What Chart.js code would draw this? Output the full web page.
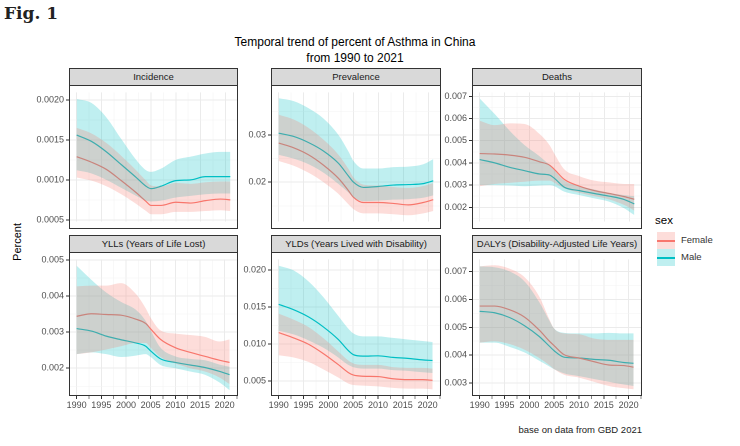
<!DOCTYPE html>
<html>
<head>
<meta charset="utf-8">
<script src="https://cdn.jsdelivr.net/npm/chart.js@4"></script>
<style>
  body { margin: 0; background: #fff; font-family: "Liberation Sans", Arial, sans-serif; }
  #wrap { position: relative; width: 740px; height: 446px; overflow: hidden; }
  canvas { position: absolute; }
  .strip { position: absolute; background: #d9d9d9; border: 1px solid #333; box-sizing: border-box;
           font-size: 9.5px; color: #1a1a1a; text-align: center; line-height: 16px; }
  .frame { position: absolute; border: 1px solid #333; box-sizing: border-box; pointer-events: none; }
  .txt { position: absolute; color: #000; }
</style>
</head>
<body>
<div id="wrap">
  <div class="txt" style="left:4px;top:3px;font-family:'DejaVu Serif',serif;font-weight:bold;font-size:17px;color:#222;">Fig. 1</div>
  <div class="txt" style="left:200px;width:310px;top:34px;text-align:center;font-size:12px;line-height:16px;">Temporal trend of percent of Asthma in China<br>from 1990 to 2021</div>
  <div class="txt" style="left:-2px;top:236px;font-size:11px;transform:rotate(-90deg);">Percent</div>
  <div class="txt" style="left:655px;top:214px;font-size:11.5px;">sex</div>
  <div style="position:absolute;left:657px;top:232px;width:18px;height:17px;background:rgba(248,118,109,0.25);"></div>
  <div style="position:absolute;left:657px;top:240px;width:18px;height:1.5px;background:#F8766D;"></div>
  <div class="txt" style="left:681px;top:234px;font-size:9.5px;color:#333;">Female</div>
  <div style="position:absolute;left:657px;top:249px;width:18px;height:17px;background:rgba(0,191,196,0.25);"></div>
  <div style="position:absolute;left:657px;top:257px;width:18px;height:1.5px;background:#00BFC4;"></div>
  <div class="txt" style="left:681px;top:251px;font-size:9.5px;color:#333;">Male</div>
  <div class="txt" style="left:442px;width:200px;top:424px;text-align:right;font-size:9.5px;color:#222;">base on data from GBD 2021</div>
</div>
<script>
const years = [1990, 1993, 1996, 1999, 2002, 2004, 2005, 2007, 2010, 2013, 2016, 2019, 2021];
const xTicks = [1990, 1995, 2000, 2005, 2010, 2015, 2020];

// Incidence
const incMale = [0.00156, 0.00148, 0.00135, 0.00119, 0.00103, 0.00092, 0.00089, 0.00092, 0.00099, 0.00100, 0.00104, 0.00104, 0.00104];
const incMaleUp = [0.00201, 0.00196, 0.00178, 0.00151, 0.00125, 0.00112, 0.00110, 0.00114, 0.00125, 0.00129, 0.00133, 0.00135, 0.00135];
const incMaleLo = [0.00112, 0.00108, 0.00100, 0.00090, 0.00080, 0.00074, 0.00073, 0.00074, 0.00078, 0.00080, 0.00082, 0.00083, 0.00083];
const incFemale = [0.00129, 0.00122, 0.00113, 0.00099, 0.00084, 0.00073, 0.00068, 0.00068, 0.00072, 0.00071, 0.00074, 0.00076, 0.00075];
const incFemaleUp = [0.00165, 0.00158, 0.00146, 0.00130, 0.00112, 0.00099, 0.00093, 0.00092, 0.00096, 0.00095, 0.00097, 0.00098, 0.00098];
const incFemaleLo = [0.00103, 0.00099, 0.00092, 0.00082, 0.00070, 0.00061, 0.00057, 0.00057, 0.00060, 0.00060, 0.00061, 0.00062, 0.00061];
const incTicks = [0.0005, 0.0010, 0.0015, 0.0020];

// Prevalence
const prevMale = [0.0304, 0.0297, 0.0284, 0.0266, 0.0240, 0.0213, 0.0200, 0.0189, 0.0191, 0.0194, 0.0195, 0.0197, 0.0203];
const prevMaleUp = [0.0378, 0.0372, 0.0357, 0.0335, 0.0300, 0.0265, 0.0245, 0.0229, 0.0229, 0.0232, 0.0233, 0.0238, 0.0249];
const prevMaleLo = [0.0258, 0.0250, 0.0238, 0.0220, 0.0196, 0.0178, 0.0168, 0.0160, 0.0161, 0.0163, 0.0164, 0.0167, 0.0172];
const prevFemale = [0.0283, 0.0273, 0.0258, 0.0236, 0.0208, 0.0182, 0.0168, 0.0157, 0.0157, 0.0155, 0.0152, 0.0157, 0.0163];
const prevFemaleUp = [0.0343, 0.0333, 0.0315, 0.0290, 0.0258, 0.0228, 0.0210, 0.0195, 0.0193, 0.0190, 0.0188, 0.0192, 0.0198];
const prevFemaleLo = [0.0245, 0.0235, 0.0220, 0.0200, 0.0175, 0.0153, 0.0143, 0.0134, 0.0134, 0.0132, 0.0130, 0.0134, 0.0139];
const prevTicks = [0.02, 0.03];

// Deaths
const dthMale = [0.00415, 0.00400, 0.00380, 0.00365, 0.00350, 0.00345, 0.00330, 0.00290, 0.00275, 0.00262, 0.00250, 0.00235, 0.00215];
const dthMaleUp = [0.00690, 0.00620, 0.00545, 0.00480, 0.00430, 0.00390, 0.00365, 0.00320, 0.00295, 0.00280, 0.00265, 0.00255, 0.00250];
const dthMaleLo = [0.00300, 0.00300, 0.00298, 0.00295, 0.00298, 0.00300, 0.00295, 0.00270, 0.00255, 0.00240, 0.00225, 0.00195, 0.00165];
const dthFemale = [0.00442, 0.00440, 0.00435, 0.00425, 0.00405, 0.00390, 0.00370, 0.00325, 0.00295, 0.00275, 0.00262, 0.00248, 0.00236];
const dthFemaleUp = [0.00590, 0.00570, 0.00578, 0.00575, 0.00530, 0.00480, 0.00440, 0.00370, 0.00340, 0.00320, 0.00312, 0.00305, 0.00305];
const dthFemaleLo = [0.00295, 0.00305, 0.00310, 0.00315, 0.00320, 0.00320, 0.00310, 0.00285, 0.00265, 0.00250, 0.00235, 0.00210, 0.00185];
const dthTicks = [0.002, 0.003, 0.004, 0.005, 0.006, 0.007];

// YLLs
const yllMale = [0.00310, 0.00303, 0.00289, 0.00279, 0.00270, 0.00261, 0.00248, 0.00226, 0.00216, 0.00209, 0.00202, 0.00191, 0.00182];
const yllMaleUp = [0.00484, 0.00445, 0.00410, 0.00384, 0.00362, 0.00331, 0.00305, 0.00257, 0.00233, 0.00226, 0.00222, 0.00210, 0.00204];
const yllMaleLo = [0.00239, 0.00244, 0.00239, 0.00231, 0.00235, 0.00239, 0.00231, 0.00209, 0.00200, 0.00191, 0.00182, 0.00160, 0.00139];
const yllFemale = [0.00344, 0.00351, 0.00349, 0.00347, 0.00336, 0.00324, 0.00309, 0.00280, 0.00257, 0.00244, 0.00233, 0.00222, 0.00216];
const yllFemaleUp = [0.00427, 0.00429, 0.00429, 0.00436, 0.00406, 0.00366, 0.00340, 0.00305, 0.00296, 0.00292, 0.00287, 0.00274, 0.00280];
const yllFemaleLo = [0.00239, 0.00244, 0.00252, 0.00261, 0.00270, 0.00270, 0.00257, 0.00231, 0.00213, 0.00200, 0.00191, 0.00174, 0.00156];
const yllTicks = [0.002, 0.003, 0.004, 0.005];

// YLDs
const yldMale = [0.01535, 0.01463, 0.01366, 0.01231, 0.01062, 0.00914, 0.00859, 0.00838, 0.00842, 0.00821, 0.00808, 0.00787, 0.00779];
const yldMaleUp = [0.02055, 0.01992, 0.01844, 0.01632, 0.01379, 0.01210, 0.01146, 0.01104, 0.01104, 0.01083, 0.01062, 0.01041, 0.01028];
const yldMaleLo = [0.0118, 0.0113, 0.0105, 0.0095, 0.0082, 0.0072, 0.0069, 0.0067, 0.0067, 0.0065, 0.0064, 0.0062, 0.0061];
const yldFemale = [0.01155, 0.01083, 0.00998, 0.00872, 0.00724, 0.00618, 0.00584, 0.00567, 0.00563, 0.00533, 0.00521, 0.00521, 0.00512];
const yldFemaleUp = [0.0141, 0.0133, 0.0123, 0.0108, 0.0090, 0.0078, 0.0074, 0.0072, 0.0072, 0.0069, 0.0068, 0.0068, 0.0067];
const yldFemaleLo = [0.0085, 0.0082, 0.0076, 0.0066, 0.0055, 0.0047, 0.0045, 0.0044, 0.0043, 0.0041, 0.0040, 0.0040, 0.0039];
const yldTicks = [0.005, 0.010, 0.015, 0.020];

// DALYs
const dalyMale = [0.00557, 0.00552, 0.00535, 0.00506, 0.00467, 0.00433, 0.00416, 0.00393, 0.00390, 0.00385, 0.00382, 0.00374, 0.00371];
const dalyMaleUp = [0.00718, 0.00715, 0.00700, 0.00665, 0.00590, 0.00525, 0.00495, 0.00480, 0.00478, 0.00478, 0.00480, 0.00478, 0.00478];
const dalyMaleLo = [0.00445, 0.00445, 0.00430, 0.00410, 0.00380, 0.00360, 0.00350, 0.00335, 0.00325, 0.00315, 0.00305, 0.00295, 0.00290];
const dalyFemale = [0.00576, 0.00576, 0.00563, 0.00537, 0.00490, 0.00451, 0.00434, 0.00402, 0.00390, 0.00377, 0.00365, 0.00363, 0.00357];
const dalyFemaleUp = [0.00718, 0.00722, 0.00710, 0.00680, 0.00610, 0.00530, 0.00495, 0.00478, 0.00475, 0.00460, 0.00455, 0.00455, 0.00455];
const dalyFemaleLo = [0.00445, 0.00450, 0.00440, 0.00420, 0.00390, 0.00365, 0.00350, 0.00330, 0.00320, 0.00305, 0.00290, 0.00282, 0.00278];
const dalyTicks = [0.003, 0.004, 0.005, 0.006, 0.007];

const FEMALE = "#F8766D", MALE = "#00BFC4";
const FEMALE_BAND = "rgba(248,118,109,0.25)", MALE_BAND = "rgba(0,191,196,0.25)";

const panels = [
  { title: "Incidence", col: 0, row: 0, min: 0.000478, max: 0.002093, ticks: incTicks, dec: 4,
    m: incMale, mu: incMaleUp, ml: incMaleLo, f: incFemale, fu: incFemaleUp, fl: incFemaleLo },
  { title: "Prevalence", col: 1, row: 0, min: 0.01165, max: 0.03905, ticks: prevTicks, dec: 2,
    m: prevMale, mu: prevMaleUp, ml: prevMaleLo, f: prevFemale, fu: prevFemaleUp, fl: prevFemaleLo },
  { title: "Deaths", col: 2, row: 0, min: 0.001355, max: 0.007175, ticks: dthTicks, dec: 3,
    m: dthMale, mu: dthMaleUp, ml: dthMaleLo, f: dthFemale, fu: dthFemaleUp, fl: dthFemaleLo },
  { title: "YLLs (Years of Life Lost)", col: 0, row: 1, min: 0.00123, max: 0.005017, ticks: yllTicks, dec: 3,
    m: yllMale, mu: yllMaleUp, ml: yllMaleLo, f: yllFemale, fu: yllFemaleUp, fl: yllFemaleLo },
  { title: "YLDs (Years Lived with Disability)", col: 1, row: 1, min: 0.00301, max: 0.0214, ticks: yldTicks, dec: 3,
    m: yldMale, mu: yldMaleUp, ml: yldMaleLo, f: yldFemale, fu: yldFemaleUp, fl: yldFemaleLo },
  { title: "DALYs (Disability-Adjusted Life Years)", col: 2, row: 1, min: 0.00254, max: 0.00743, ticks: dalyTicks, dec: 3,
    m: dalyMale, mu: dalyMaleUp, ml: dalyMaleLo, f: dalyFemale, fu: dalyFemaleUp, fl: dalyFemaleLo }
];

const colX = [[69, 238], [271, 441], [472, 642]];
const rowY = [[68, 85, 229], [235, 252, 396]];
const AXW = 45, XAXH = 16;
const wrap = document.getElementById("wrap");

function pts(vals) { return vals.map((v, i) => ({ x: years[i], y: v })); }

function withMinors(major) {
  const out = [];
  const step = major.length > 1 ? major[1] - major[0] : 0.01;
  for (let i = 0; i < major.length; i++) {
    out.push({ value: major[i], major: true });
    out.push({ value: major[i] + step / 2, major: false });
  }
  out.unshift({ value: major[0] - step / 2, major: false });
  return out;
}

panels.forEach(p => {
  const [x0, x1] = colX[p.col];
  const [sTop, pTop, pBot] = rowY[p.row];
  const bottom = p.row === 1;

  const strip = document.createElement("div");
  strip.className = "strip";
  Object.assign(strip.style, { left: x0 + "px", top: sTop + "px", width: (x1 - x0) + "px", height: (pTop - sTop + 1) + "px" });
  strip.textContent = p.title;
  wrap.appendChild(strip);

  const cv = document.createElement("canvas");
  const w = x1 - x0 + AXW, h = pBot - pTop + (bottom ? XAXH : 0);
  cv.width = w; cv.height = h;
  Object.assign(cv.style, { left: (x0 - AXW) + "px", top: pTop + "px", width: w + "px", height: h + "px" });
  wrap.appendChild(cv);

  const frame = document.createElement("div");
  frame.className = "frame";
  Object.assign(frame.style, { left: x0 + "px", top: pTop + "px", width: (x1 - x0) + "px", height: (pBot - pTop) + "px" });
  wrap.appendChild(frame);

  const band = (data, color, fill) => ({ data: pts(data), borderWidth: 0, pointRadius: 0, backgroundColor: color,
    fill: fill, cubicInterpolationMode: "monotone" });
  const line = (data, color) => ({ data: pts(data), borderColor: color, borderWidth: 1.2, pointRadius: 0,
    fill: false, cubicInterpolationMode: "monotone" });

  new Chart(cv, {
    type: "line",
    data: {
      datasets: [
        band(p.fu, FEMALE_BAND, "+1"), band(p.fl, FEMALE_BAND, false),
        band(p.mu, MALE_BAND, "+1"), band(p.ml, MALE_BAND, false),
        line(p.f, FEMALE), line(p.m, MALE)
      ]
    },
    options: {
      responsive: false, animation: false, devicePixelRatio: 2,
      layout: { padding: 0 },
      plugins: { legend: { display: false }, tooltip: { enabled: false } },
      scales: {
        x: {
          type: "linear", min: 1988.45, max: 2022.55,
          afterBuildTicks: s => {
            const t = [];
            xTicks.forEach(v => { t.push({ value: v, major: true }); t.push({ value: v + 2.5, major: false }); });
            t.unshift({ value: 1987.5, major: false });
            s.ticks = t.filter(k => k.value >= s.min && k.value <= s.max);
          },
          afterFit: s => { s.height = bottom ? XAXH : 0; },
          grid: { color: c => c.tick && c.tick.major ? "#ebebeb" : "#f4f4f4", lineWidth: c => c.tick && c.tick.major ? 1 : 0.6,
                  drawTicks: bottom, tickLength: 3, tickColor: "#333" },
          border: { display: false },
          ticks: { display: bottom, autoSkip: false, maxRotation: 0, padding: 1, color: "#4d4d4d",
                   font: { size: 9, family: "Liberation Sans" },
                   callback: (v, i, t) => t[i].major ? String(v) : "" }
        },
        y: {
          min: p.min, max: p.max,
          afterBuildTicks: s => { s.ticks = withMinors(p.ticks).filter(k => k.value >= s.min && k.value <= s.max); },
          afterFit: s => { s.width = AXW; },
          grid: { color: c => c.tick && c.tick.major ? "#ebebeb" : "#f4f4f4", lineWidth: c => c.tick && c.tick.major ? 1 : 0.6,
                  drawTicks: true, tickLength: 3, tickColor: c => c.tick && c.tick.major ? "#333" : "rgba(0,0,0,0)" },
          border: { display: false },
          ticks: { autoSkip: false, padding: 2, color: "#4d4d4d", font: { size: 9, family: "Liberation Sans" },
                   callback: (v, i, t) => t[i].major ? v.toFixed(p.dec) : "" }
        }
      }
    }
  });
});
</script>
</body>
</html>
